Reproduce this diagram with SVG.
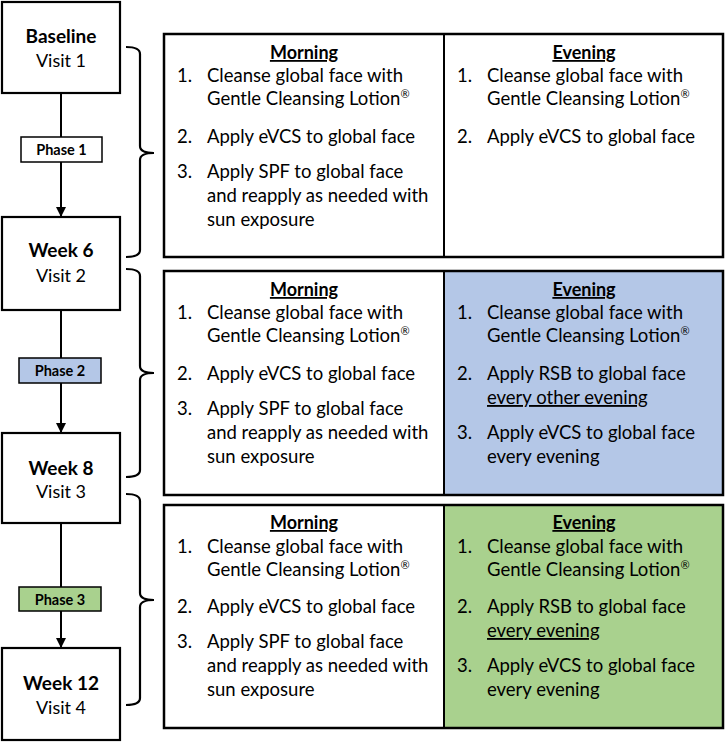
<svg xmlns="http://www.w3.org/2000/svg" width="725" height="742" viewBox="0 0 725 742">
<style>
.box{fill:#fff;stroke:#000;stroke-width:2.2}
.tbl{stroke:#000;stroke-width:2.5}
.div{stroke:#000;stroke-width:2}
.ln{stroke:#000;stroke-width:2;fill:none}
.br{stroke:#000;stroke-width:2.2;fill:none}
text{font-family:Lato,"Open Sans","Liberation Sans",sans-serif;fill:#000}
.vb{font-size:19px;font-weight:bold;text-anchor:middle}
.vr{font-size:18px;text-anchor:middle}
.ph{font-size:14.5px;font-weight:bold;text-anchor:middle}
.hd{font-size:18px;font-weight:bold;text-anchor:middle;text-decoration:underline}
.t{font-size:18.5px}
.u{text-decoration:underline}
.sup{font-size:11px}
</style>
<defs>
<marker id="ah" markerWidth="10" markerHeight="10" refX="10" refY="5" orient="auto" markerUnits="userSpaceOnUse">
<path d="M0,0 L10,5 L0,10 z" fill="#000"/>
</marker>
</defs>

<g id="connectors">
<line class="ln" x1="61" y1="93" x2="61" y2="137"/>
<line class="ln" x1="61" y1="162" x2="61" y2="217" marker-end="url(#ah)"/>
<line class="ln" x1="61" y1="310" x2="61" y2="358"/>
<line class="ln" x1="61" y1="383" x2="61" y2="433" marker-end="url(#ah)"/>
<line class="ln" x1="61" y1="523" x2="61" y2="587"/>
<line class="ln" x1="61" y1="611" x2="61" y2="648" marker-end="url(#ah)"/>
</g>

<g id="braces">
<path class="br" d="M126,47 Q140,47 140,54 L140,146 Q140,153 154,153 Q140,153 140,160 L140,250 Q140,257 126,257"/>
<path class="br" d="M126,269 Q140,269 140,276 L140,366 Q140,373 154,373 Q140,373 140,380 L140,470 Q140,477 126,477"/>
<path class="br" d="M126,494 Q140,494 140,501 L140,593 Q140,600 154,600 Q140,600 140,607 L140,698 Q140,705 126,705"/>
</g>

<g id="visit1">
<rect class="box" x="2" y="2" width="118" height="91"/>
<text class="vb" x="61" y="43">Baseline</text>
<text class="vr" x="61" y="67">Visit 1</text>
</g>
<g id="visit2">
<rect class="box" x="2" y="217" width="118" height="93"/>
<text class="vb" x="61" y="257">Week 6</text>
<text class="vr" x="61" y="282">Visit 2</text>
</g>
<g id="visit3">
<rect class="box" x="2" y="433" width="118" height="90"/>
<text class="vb" x="61" y="475">Week 8</text>
<text class="vr" x="61" y="498">Visit 3</text>
</g>
<g id="visit4">
<rect class="box" x="2" y="648" width="118" height="92"/>
<text class="vb" x="61" y="690">Week 12</text>
<text class="vr" x="61" y="714">Visit 4</text>
</g>

<g id="phase1">
<rect x="21" y="137" width="81" height="25" fill="#fff" stroke="#000" stroke-width="1.5"/>
<text class="ph" x="61.5" y="155">Phase 1</text>
</g>
<g id="phase2">
<rect x="19" y="358" width="82" height="25" fill="#b4c7e7" stroke="#000" stroke-width="1.5"/>
<text class="ph" x="60" y="376">Phase 2</text>
</g>
<g id="phase3">
<rect x="19" y="587" width="82" height="24" fill="#a9d18e" stroke="#000" stroke-width="1.5"/>
<text class="ph" x="60" y="604.5">Phase 3</text>
</g>

<g id="table1">
<rect class="tbl" x="164" y="34" width="559" height="223" fill="#fff"/>
<line class="div" x1="444" y1="34" x2="444" y2="257"/>
<text class="hd" x="304" y="59">Morning</text>
<text class="t" x="177" y="82">1.</text><text class="t" x="207" y="82">Cleanse global face with</text>
<text class="t" x="207" y="105">Gentle Cleansing Lotion<tspan class="sup" dy="-7">®</tspan></text>
<text class="t" x="177" y="143">2.</text><text class="t" x="207" y="143">Apply eVCS to global face</text>
<text class="t" x="177" y="178">3.</text><text class="t" x="207" y="178">Apply SPF to global face</text>
<text class="t" x="207" y="202">and reapply as needed with</text>
<text class="t" x="207" y="226">sun exposure</text>
<text class="hd" x="584" y="59">Evening</text>
<text class="t" x="457" y="82">1.</text><text class="t" x="487" y="82">Cleanse global face with</text>
<text class="t" x="487" y="105">Gentle Cleansing Lotion<tspan class="sup" dy="-7">®</tspan></text>
<text class="t" x="457" y="143">2.</text><text class="t" x="487" y="143">Apply eVCS to global face</text>
</g>

<g id="table2">
<rect x="444" y="271" width="279" height="224" fill="#b4c7e7"/>
<rect class="tbl" x="164" y="271" width="559" height="224" fill="none"/>
<line class="div" x1="444" y1="271" x2="444" y2="495"/>
<text class="hd" x="304" y="296">Morning</text>
<text class="t" x="177" y="319">1.</text><text class="t" x="207" y="319">Cleanse global face with</text>
<text class="t" x="207" y="342">Gentle Cleansing Lotion<tspan class="sup" dy="-7">®</tspan></text>
<text class="t" x="177" y="380">2.</text><text class="t" x="207" y="380">Apply eVCS to global face</text>
<text class="t" x="177" y="415">3.</text><text class="t" x="207" y="415">Apply SPF to global face</text>
<text class="t" x="207" y="439">and reapply as needed with</text>
<text class="t" x="207" y="463">sun exposure</text>
<text class="hd" x="584" y="296">Evening</text>
<text class="t" x="457" y="319">1.</text><text class="t" x="487" y="319">Cleanse global face with</text>
<text class="t" x="487" y="342">Gentle Cleansing Lotion<tspan class="sup" dy="-7">®</tspan></text>
<text class="t" x="457" y="380">2.</text><text class="t" x="487" y="380">Apply RSB to global face</text>
<text class="t u" x="487" y="404">every other evening</text>
<text class="t" x="457" y="439">3.</text><text class="t" x="487" y="439">Apply eVCS to global face</text>
<text class="t" x="487" y="463">every evening</text>
</g>

<g id="table3">
<rect x="444" y="505" width="279" height="223" fill="#a9d18e"/>
<rect class="tbl" x="164" y="505" width="559" height="223" fill="none"/>
<line class="div" x1="444" y1="505" x2="444" y2="728"/>
<text class="hd" x="304" y="529">Morning</text>
<text class="t" x="177" y="553">1.</text><text class="t" x="207" y="553">Cleanse global face with</text>
<text class="t" x="207" y="576">Gentle Cleansing Lotion<tspan class="sup" dy="-7">®</tspan></text>
<text class="t" x="177" y="613">2.</text><text class="t" x="207" y="613">Apply eVCS to global face</text>
<text class="t" x="177" y="648">3.</text><text class="t" x="207" y="648">Apply SPF to global face</text>
<text class="t" x="207" y="672">and reapply as needed with</text>
<text class="t" x="207" y="696">sun exposure</text>
<text class="hd" x="584" y="529">Evening</text>
<text class="t" x="457" y="553">1.</text><text class="t" x="487" y="553">Cleanse global face with</text>
<text class="t" x="487" y="576">Gentle Cleansing Lotion<tspan class="sup" dy="-7">®</tspan></text>
<text class="t" x="457" y="613">2.</text><text class="t" x="487" y="613">Apply RSB to global face</text>
<text class="t u" x="487" y="637">every evening</text>
<text class="t" x="457" y="672">3.</text><text class="t" x="487" y="672">Apply eVCS to global face</text>
<text class="t" x="487" y="696">every evening</text>
</g>
</svg>
